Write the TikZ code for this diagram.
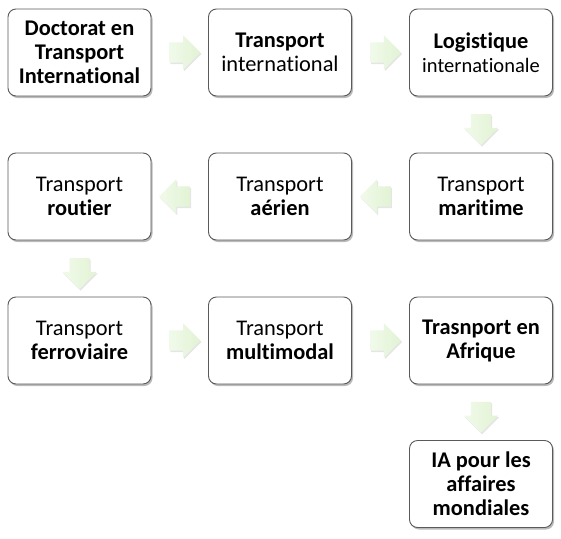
\documentclass[tikz,border=0pt]{standalone}
\usepackage{fontspec}
\setmainfont{Carlito}[Ligatures=NoCommon]
\usepackage{tikz}
\usetikzlibrary{shapes.arrows,shadows,calc}
\tikzset{>=latex}
\definecolor{vertpale}{RGB}{241,250,234}
\definecolor{vertclair}{RGB}{226,243,212}
\definecolor{bord}{RGB}{90,90,90}

\begin{document}
\begin{tikzpicture}[x=1pt,y=-1pt,
  boite/.style={draw=bord,line width=0.9pt,rounded corners=8pt,fill=white,
    minimum width=143pt,minimum height=87pt,align=center,inner sep=2pt,
    font=\fontsize{22.4}{24}\selectfont,
    drop shadow={shadow xshift=1.5pt,shadow yshift=-2pt,opacity=0.45,fill=black!60}},
  fleche/.style={single arrow,draw=none,inner sep=10pt,minimum height=31pt,
    single arrow head extend=7pt,
    left color=vertpale,right color=vertclair,
    drop shadow={shadow xshift=1pt,shadow yshift=-1.5pt,opacity=0.1,fill=black}}]
  \useasboundingbox (0,0) rectangle (561,538);

  \node[boite] (doct) at (79.5,52.5) {\textbf{Doctorat en}\\\textbf{Transport}\\\textbf{International}};
  \node[boite] (inter) at (280,52.5) {\textbf{Transport}\\international};
  \node[boite] (logi) at (481,52.5) {\textbf{Logistique}\\{\fontsize{20.5}{24}\selectfont internationale}};

  \node[boite] (mari) at (481,196.5) {Transport\\\textbf{maritime}};
  \node[boite] (aeri) at (280,196.5) {Transport\\\textbf{aérien}};
  \node[boite] (rout) at (79.5,196.5) {Transport\\\textbf{routier}};

  \node[boite] (ferr) at (79.5,340.5) {Transport\\\textbf{ferroviaire}};
  \node[boite] (mult) at (280,340.5) {Transport\\\textbf{multimodal}};
  \node[boite] (afri) at (481,340.5) {\textbf{Trasnport en}\\\textbf{Afrique}};

  \node[boite] (ia) at (481,484) {\textbf{IA pour les}\\\textbf{affaires}\\\textbf{mondiales}};

  \node[fleche] at ($(doct)!0.5!(inter)$) {};
  \node[fleche] at ($(inter)!0.5!(logi)$) {};
  \node[fleche,shape border rotate=270] at ($(logi)!0.5!(mari)$) {};
  \node[fleche,shape border rotate=180] at ($(mari)!0.5!(aeri)$) {};
  \node[fleche,shape border rotate=180] at ($(aeri)!0.5!(rout)$) {};
  \node[fleche,shape border rotate=270] at ($(rout)!0.5!(ferr)$) {};
  \node[fleche] at ($(ferr)!0.5!(mult)$) {};
  \node[fleche] at ($(mult)!0.5!(afri)$) {};
  \node[fleche,shape border rotate=270] at ($(afri)!0.5!(ia)$) {};

\end{tikzpicture}
\end{document}
